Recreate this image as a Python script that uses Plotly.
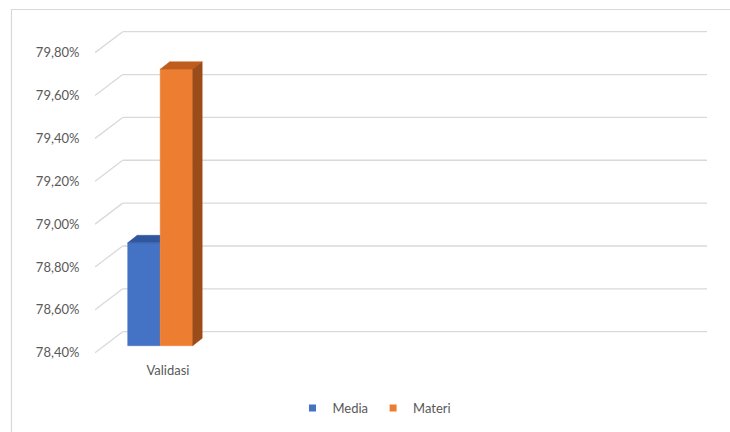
import plotly.graph_objects as go

# ---- data ----
categories = ["Validasi"]
series_names = ["Media", "Materi"]
media_values = [78.88]
materi_values = [79.69]
y_tick_values = [78.40, 78.60, 78.80, 79.00, 79.20, 79.40, 79.60, 79.80]
y_tick_labels = ["78,40%", "78,60%", "78,80%", "79,00%", "79,20%", "79,40%", "79,60%", "79,80%"]

# ---- style / geometry ----
front_colors = ["#4472C4", "#ED7D31"]
top_colors = ["#2F569E", "#BF5E1C"]
side_colors = ["#2B4E8F", "#9C4C18"]
grid_color = "#D9D9D9"
text_color = "#595959"
FONT = "Lato, 'Open Sans', sans-serif"

W, H = 730, 432
L, R, T, B = 95, 15, 20, 356
S = 214.3            # px per percentage point
Y0 = 352.7           # pixel of axis minimum at the front edge
base_value = y_tick_values[0]
wall_dx, wall_dy = 27.7, 21.0   # depth of wall in px
bar_depth_front = 0.333
bar_dx, bar_dy = 9.5, 7.5
group_left = 32.7
bar_w = 32.5
plot_w = W - L - R

v_bottom = base_value - (B - Y0) / S
v_top = base_value + (Y0 - T) / S

def dv(px):
    return px / S

fig = go.Figure()

# walls grid lines (shapes below traces)
shapes = []
for v in y_tick_values:
    vb = v + dv(wall_dy)
    shapes.append(dict(type="line", xref="x", yref="y", x0=0, y0=v, x1=wall_dx, y1=vb,
                       line=dict(color=grid_color, width=1.3), layer="below"))
    shapes.append(dict(type="line", xref="x", yref="y", x0=wall_dx, y0=vb, x1=plot_w - 8, y1=vb,
                       line=dict(color=grid_color, width=1.3), layer="below"))
# outer chart border
shapes.append(dict(type="rect", xref="paper", yref="paper",
                   x0=(11.5 - L) / plot_w, x1=(W + 2 - L) / plot_w,
                   y0=(B - (H + 2)) / (B - T), y1=(B - 9.5) / (B - T),
                   line=dict(color=grid_color, width=1.2), fillcolor="rgba(0,0,0,0)", layer="below"))

values = [media_values[0], materi_values[0]]
fy = dv(bar_depth_front * wall_dy)  # front face vertical shift
n = len(values)
for i, (name, v) in enumerate(zip(series_names, values)):
    x0 = group_left + i * bar_w
    x1 = x0 + bar_w
    yb = base_value + fy
    yt = v + fy
    ytb = yt + dv(bar_dy)
    # front face
    fig.add_trace(go.Scatter(x=[x0, x1, x1, x0, x0], y=[yb, yb, yt, yt, yb], fill="toself",
                             mode="lines", line=dict(color=front_colors[i], width=0.5),
                             fillcolor=front_colors[i], showlegend=False, hoverinfo="skip"))
    last = (i == n - 1)
    # top face (clipped by next bar's front face if not last)
    if last:
        tx = [x0, x1, x1 + bar_dx, x0 + bar_dx, x0]
    else:
        tx = [x0, x1, x1, x0 + bar_dx, x0]
    ty = [yt, yt, ytb, ytb, yt]
    fig.add_trace(go.Scatter(x=tx, y=ty, fill="toself", mode="lines",
                             line=dict(color=top_colors[i], width=0.5),
                             fillcolor=top_colors[i], showlegend=False, hoverinfo="skip"))
    if last:
        sx = [x1, x1 + bar_dx, x1 + bar_dx, x1, x1]
        sy = [yb, yb + dv(bar_dy), ytb, yt, yb]
        fig.add_trace(go.Scatter(x=sx, y=sy, fill="toself", mode="lines",
                                 line=dict(color=side_colors[i], width=0.5),
                                 fillcolor=side_colors[i], showlegend=False, hoverinfo="skip"))

# legend entries
for i, name in enumerate(series_names):
    fig.add_trace(go.Scatter(x=[None], y=[None], mode="markers", name=name,
                             marker=dict(symbol="square", size=7, color=front_colors[i])))

center = group_left + bar_w * n / 2 + bar_dx / 2 + 3
fig.update_layout(
    width=W, height=H,
    margin=dict(l=L, r=R, t=T, b=H - B),
    paper_bgcolor="white", plot_bgcolor="white",
    font=dict(family=FONT, size=13, color=text_color),
    shapes=shapes,
    showlegend=True,
    legend=dict(orientation="h", xref="container", yref="container",
                x=0.513, y=1 - 408 / H, xanchor="center", yanchor="middle",
                font=dict(size=13, color=text_color), itemwidth=30, tracegroupgap=0),
    xaxis=dict(range=[0, plot_w], showgrid=False, zeroline=False, showline=False,
               tickvals=[center], ticktext=categories, ticks="outside", ticklen=2,
               tickcolor="rgba(0,0,0,0)", fixedrange=True),
    yaxis=dict(range=[v_bottom, v_top], showgrid=False, zeroline=False, showline=False,
               tickvals=y_tick_values, ticktext=y_tick_labels, ticks="outside", ticklen=12,
               tickcolor="rgba(0,0,0,0)", fixedrange=True),
)

fig.write_html("out.html", config={"displayModeBar": False},
               post_script="document.body.style.margin='0';")
